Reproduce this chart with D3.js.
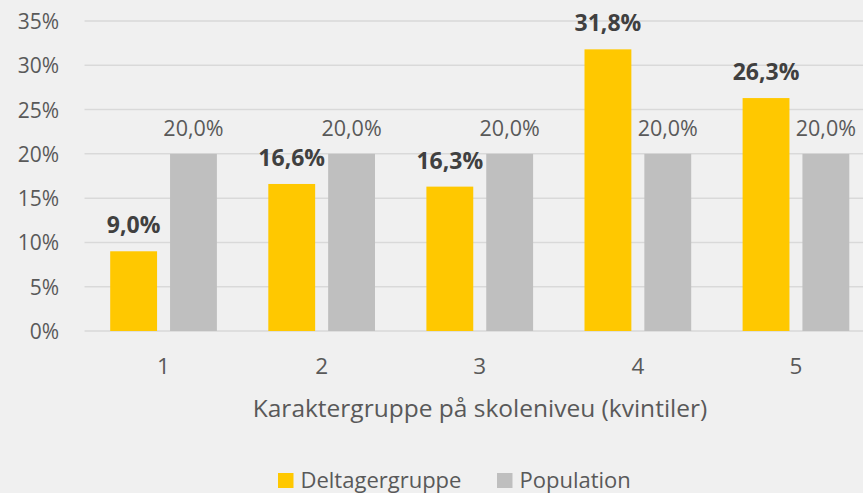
<!DOCTYPE html>
<html>
<head>
<meta charset="utf-8">
<script src="https://cdn.jsdelivr.net/npm/d3@7"></script>
<style>
  html, body { margin: 0; padding: 0; background: #f0f0f0; }
  svg { display: block; font-family: "Open Sans", "Noto Sans", sans-serif; }
</style>
</head>
<body>
<svg id="chart" width="863" height="493"></svg>
<script>
const categories = ["1", "2", "3", "4", "5"];
const seriesNames = ["Deltagergruppe", "Population"];
const deltagerValues = [9.0, 16.6, 16.3, 31.8, 26.3];
const populationValues = [20.0, 20.0, 20.0, 20.0, 20.0];
const yTicks = [0, 5, 10, 15, 20, 25, 30, 35];
const seriesColors = ["#ffc800", "#bfbfbf"];
const xTitle = "Karaktergruppe på skoleniveu (kvintiler)";

const svg = d3.select("#chart");
const W = 863, H = 493;
svg.append("rect").attr("width", W).attr("height", H).attr("fill", "#f0f0f0");

const plotLeft = 84.5, plotRight = 875, plotTop = 21, plotBottom = 331;

const x = d3.scaleBand().domain(categories).range([plotLeft, plotRight]).paddingInner(0).paddingOuter(0);
const outer = 25.7;
const xs = d3.scaleBand().domain(seriesNames).range([outer, x.bandwidth() - outer]).paddingInner(0.217).paddingOuter(0);
const y = d3.scaleLinear().domain([0, 35]).range([plotBottom, plotTop]);

const fmt = v => d3.format(".1f")(v).replace(".", ",") + "%";

// gridlines
svg.append("g").selectAll("line").data(yTicks).join("line")
  .attr("x1", plotLeft).attr("x2", W)
  .attr("y1", d => y(d)).attr("y2", d => y(d))
  .attr("stroke", "#d9d9d9").attr("stroke-width", 1.5);

// y tick labels
svg.append("g").selectAll("text").data(yTicks).join("text")
  .attr("x", 59).attr("y", d => y(d) + 8)
  .attr("text-anchor", "end")
  .attr("font-size", 21).attr("fill", "#595959")
  .text(d => d + "%");

const data = categories.map((c, i) => ({ cat: c, vals: [
  { s: seriesNames[0], v: deltagerValues[i], bold: true },
  { s: seriesNames[1], v: populationValues[i], bold: false }
]}));

const groups = svg.append("g").selectAll("g").data(data).join("g")
  .attr("transform", d => `translate(${x(d.cat)},0)`);

groups.selectAll("rect").data(d => d.vals).join("rect")
  .attr("x", d => xs(d.s)).attr("width", xs.bandwidth())
  .attr("y", d => y(d.v)).attr("height", d => y(0) - y(d.v))
  .attr("fill", (d, i) => seriesColors[i]);

groups.selectAll("text").data(d => d.vals).join("text")
  .attr("x", d => xs(d.s) + xs.bandwidth() / 2)
  .attr("y", d => y(d.v) - 18)
  .attr("text-anchor", "middle")
  .attr("font-size", d => d.bold ? 23 : 21.5)
  .attr("font-weight", d => d.bold ? "bold" : "normal")
  .attr("fill", d => d.bold ? "#404040" : "#595959")
  .text(d => fmt(d.v));

// x tick labels
svg.append("g").selectAll("text").data(categories).join("text")
  .attr("x", d => x(d) + x.bandwidth() / 2).attr("y", 374)
  .attr("text-anchor", "middle")
  .attr("font-size", 22.5).attr("fill", "#595959")
  .text(d => d);

// x axis title
svg.append("text")
  .attr("x", 480).attr("y", 417)
  .attr("text-anchor", "middle")
  .attr("font-size", 24.5).attr("fill", "#595959")
  .text(xTitle);

// legend
const legendX = [278, 497];
const legend = svg.append("g").selectAll("g").data(seriesNames).join("g")
  .attr("transform", (d, i) => `translate(${legendX[i]},473)`);
legend.append("rect").attr("width", 15.5).attr("height", 15).attr("fill", (d, i) => seriesColors[i]);
legend.append("text").attr("x", 22.5).attr("y", 15)
  .attr("font-size", 22).attr("fill", "#595959").text(d => d);
</script>
</body>
</html>
